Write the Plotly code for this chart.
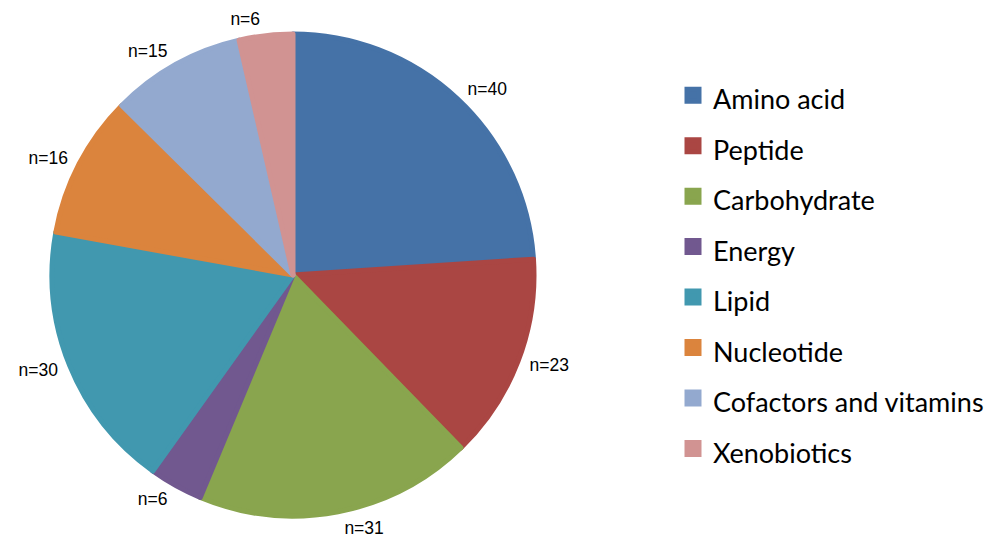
import plotly.graph_objects as go

categories = ["Amino acid", "Peptide", "Carbohydrate", "Energy", "Lipid",
              "Nucleotide", "Cofactors and vitamins", "Xenobiotics"]
counts = [40, 23, 31, 6, 30, 16, 15, 6]
colors = ["#4572A7", "#AA4643", "#89A54E", "#71588F", "#4198AF",
          "#DB843D", "#93A9CF", "#D19392"]

W, H = 995, 546
legend_labels = [f"<span style='font-size:27px'>{c}</span>" for c in categories]

# main pie (slices + legend)
fig = go.Figure(go.Pie(
    labels=legend_labels,
    values=counts,
    sort=False,
    direction="clockwise",
    rotation=0,
    marker=dict(colors=colors, line=dict(width=5, color=colors)),
    textinfo="none",
    domain=dict(x=[44 / W, 526 / W], y=[1 - 508 / H, 1 - 26 / H]),
    showlegend=True,
    hoverinfo="label+value",
))

# slightly larger transparent pie carrying the outside "n=" labels
fig.add_trace(go.Pie(
    labels=categories,
    values=counts,
    sort=False,
    direction="clockwise",
    rotation=0,
    marker=dict(colors=["rgba(0,0,0,0)"] * len(counts), line=dict(width=0)),
    texttemplate="n=%{value}",
    textposition="outside",
    textfont=dict(family="Liberation Sans, Arial", size=17.5, color="#000000"),
    domain=dict(x=[37 / W, 533 / W], y=[1 - 515 / H, 1 - 19 / H]),
    showlegend=False,
    hoverinfo="skip",
    automargin=False,
))

fig.update_layout(
    width=W, height=H,
    margin=dict(l=0, r=0, t=0, b=0, autoexpand=False),
    paper_bgcolor="white",
    plot_bgcolor="white",
    legend=dict(
        x=665 / W, xanchor="left",
        y=1 - 57 / H, yanchor="top",
        font=dict(family="Lato, Open Sans, sans-serif", size=36.5, color="#000000"),
        bgcolor="rgba(0,0,0,0)",
    ),
)

fig.write_html("out.html")
